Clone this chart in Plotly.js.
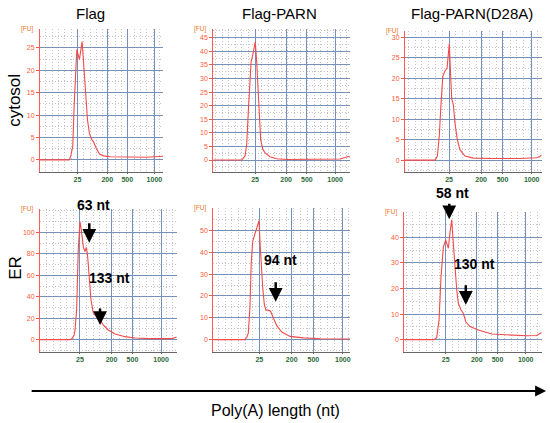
<!DOCTYPE html>
<html>
<head>
<meta charset="utf-8">
<script src="https://cdn.plot.ly/plotly-3.0.1.min.js"></script>
<style>html,body{margin:0;padding:0;background:#fff;}#chart{width:550px;height:423px;}</style>
</head>
<body>
<div id="chart"></div>
<script>
// Ladder (size markers) on the migration-time axis
const ladderSizes = ['25', '200', '500', '1000'];
const ladderTimes = [30, 53.7, 69.5, 91];

const columnTitles = ['Flag', 'Flag-PARN', 'Flag-PARN(D28A)'];
const rowLabels = ['cytosol', 'ER'];
const xAxisLabel = 'Poly(A) length (nt)';
const yUnit = '[FU]';

// cytosol – Flag
const cytFlagT = [0.3, 23.6, 24.8, 26.3, 27.4, 28.4, 29.5, 30.6, 31.6, 32.7, 33.7, 34.8, 35.3, 36.4, 38.0, 39.5, 41.4, 42.7, 44.9, 47.5, 50.7, 56.0, 70, 85, 98];
const cytFlagY = [0, 0, 1, 3, 12, 20, 24.6, 23.5, 22.4, 24.5, 26.4, 22, 20, 14.5, 8.9, 5.9, 4.5, 4.1, 2.6, 1.3, 0.9, 0.7, 0.6, 0.6, 0.8];
// cytosol – Flag-PARN
const cytParnT = [-1.8, 19.9, 22.4, 23.7, 24.9, 26.2, 27.0, 28.2, 29.2, 30.2, 31.3, 32.3, 33.3, 34.3, 35.9, 37.9, 41.4, 46.5, 54.2, 74.5, 94.8, 98.6, 101.1, 102.4];
const cytParnY = [0, 0, 1.5, 6, 18, 30, 36, 38.5, 41, 43.5, 36, 25, 13, 7.5, 4, 2.5, 1.2, 0.5, 0.2, 0.3, 0.4, 0.9, 1.3, 1.1];
// cytosol – Flag-PARN(D28A)
const cytD28T = [-2.5, 19.7, 21.4, 22.8, 24.1, 25.4, 27.0, 28.5, 29.5, 30.2, 31.0, 32.0, 33.2, 34.4, 36.1, 38.1, 41.8, 47.9, 62.7, 82.4, 94.7, 97.1, 98.4];
const cytD28Y = [0, 0, 1, 6, 14, 20.5, 21.8, 22.5, 26, 28.5, 22, 15, 13.5, 9, 5, 2.5, 1, 0.5, 0.4, 0.4, 0.6, 0.9, 1.3];
// ER – Flag
const erFlagT = [-0.1, 22.5, 24.0, 25.5, 26.2, 27.5, 28.7, 29.5, 30.0, 30.8, 31.7, 32.6, 33.8, 34.7, 35.0, 35.8, 36.8, 38.3, 40.0, 42.6, 45.1, 47.5, 51.3, 56.4, 63.9, 71.4, 82.7, 94, 99.3, 102.8];
const erFlagY = [0, 0, 1, 4, 8, 28, 84, 105, 110, 104, 92, 86, 82, 86, 85, 77, 59, 37, 25, 21, 18.4, 13.7, 9, 5.3, 2.8, 1.5, 1, 0.8, 1, 2.5];
// ER – Flag-PARN
const erParnT = [-3.6, 19.5, 20.8, 22.0, 23.2, 24.1, 25.2, 26.9, 28.5, 29.8, 30.5, 31.5, 32.5, 33.7, 34.9, 36.6, 38.3, 40.2, 42.7, 46.4, 52.5, 62.2, 74.4, 96.3];
const erParnY = [0, 0, 1, 3, 15, 35, 45, 48.5, 51, 54.5, 45, 33, 24, 16, 13.5, 13.5, 13, 10, 6.5, 3.5, 1.5, 0.8, 0.4, 0.3];
// ER – Flag-PARN(D28A)
const erD28T = [-1.6, 21.1, 23.1, 24.9, 26.4, 28.2, 30.0, 31.0, 32.0, 33.3, 34.6, 35.8, 37.1, 38.4, 39.6, 41.7, 43.4, 45.3, 48.5, 54.9, 65.1, 79.0, 91.8, 99.4, 103.2];
const erD28Y = [0, 0, 0.8, 7.7, 24.6, 36.3, 39, 37, 35.7, 42, 46.8, 37.6, 27.2, 19.4, 14.2, 11.6, 10.3, 7, 5.1, 3.8, 2.2, 1.8, 1.5, 1.6, 2.8];

// Peak callouts
const peakLabels = ['63 nt', '133 nt', '94 nt', '58 nt', '130 nt'];
const peakPanels = [4, 4, 5, 6, 6];
const peakT = [37.0, 45.1, 42.0, 32.7, 45.3];
const peakY = [90.4, 13.7, 17.4, 47.1, 13.6];

const series = [
  [cytFlagT, cytFlagY], [cytParnT, cytParnY], [cytD28T, cytD28Y],
  [erFlagT, erFlagY], [erParnT, erParnY], [erD28T, erD28Y]
];

// y tick spacing and largest labelled value per panel
const yDticks = [5, 5, 5, 20, 10, 10];
const yTickMax = [25, 45, 30, 100, 50, 40];

// layout geometry
const xDomains = [[0.0727, 0.2970], [0.3878, 0.6364], [0.7364, 0.9849], [0.0727, 0.3213], [0.3878, 0.6364], [0.7351, 0.9849]];
const yDomains = [[0.5934, 0.9314], [0.5934, 0.9307], [0.5934, 0.9267], [0.1686, 0.5052], [0.1686, 0.5075], [0.1686, 0.4995]];
const xRanges = [[0.34, 98.1], [-1.8, 102.4], [-2.5, 98.4], [-0.1, 102.8], [-3.6, 96.3], [-1.6, 103.2]];
const yRanges = [[-2.7, 29.2], [-4.4, 48.1], [-2.9, 31.6], [-11.2, 121.5], [-5.5, 60.1], [-4.7, 50]];
const labelPX = [0.1691, 0.1982, 0.5091, 0.8236, 0.8636];
const labelPY = [0.5154, 0.3428, 0.3853, 0.5430, 0.3759];
const arrowLen = [-21, -18, -21, -17, -21];

const curveColor = '#f24a4a';
const majorGrid = '#7591b8';
const minorGrid = '#c4c4c4';
const yTickColor = '#ff5a36';

const traces = series.map((s, i) => ({
  type: 'scatter', mode: 'lines',
  x: s[0], y: s[1],
  xaxis: i === 0 ? 'x' : 'x' + (i + 1),
  yaxis: i === 0 ? 'y' : 'y' + (i + 1),
  line: {color: curveColor, width: 1.1},
  hoverinfo: 'skip'
}));

const layout = {
  width: 550, height: 423,
  margin: {l: 0, r: 0, t: 0, b: 0},
  paper_bgcolor: '#ffffff', plot_bgcolor: '#ffffff',
  showlegend: false,
  font: {family: 'Liberation Sans, Arial, sans-serif', color: '#000'},
  annotations: [], shapes: []
};

for (let i = 0; i < 6; i++) {
  const n = i === 0 ? '' : String(i + 1);
  const yt = [];
  for (let v = 0; v <= yTickMax[i]; v += yDticks[i]) yt.push(v);
  layout['xaxis' + n] = {
    domain: xDomains[i], range: xRanges[i], anchor: 'y' + n,
    tickmode: 'array', tickvals: ladderTimes, ticktext: ladderSizes,
    tickfont: {size: 7, color: '#2a6a3a', weight: 'bold'},
    ticks: 'outside', ticklen: 1, tickcolor: '#666',
    showgrid: true, gridcolor: majorGrid, gridwidth: 1,
    minor: {tick0: 0, dtick: 5, showgrid: true, gridcolor: minorGrid, griddash: '1px,2px', gridwidth: 1, ticks: ''},
    showline: true, linecolor: '#666', linewidth: 1,
    zeroline: false, fixedrange: true
  };
  layout['yaxis' + n] = {
    domain: yDomains[i], range: yRanges[i], anchor: 'x' + n,
    tickmode: 'array', tickvals: yt,
    tickfont: {size: 7, color: yTickColor},
    ticks: 'outside', ticklen: 3, tickcolor: yTickColor,
    showgrid: true, gridcolor: majorGrid, gridwidth: 1,
    minor: {tick0: 0, dtick: yDticks[i] / 2, showgrid: true, gridcolor: minorGrid, griddash: '1px,2px', gridwidth: 1, ticks: ''},
    showline: true, linecolor: '#ff5a5a', linewidth: 1,
    zeroline: false, fixedrange: true
  };
  // [FU] unit label
  layout.annotations.push({
    text: yUnit, xref: 'x' + n + ' domain', yref: 'y' + n + ' domain',
    x: 0, y: 1, xanchor: 'right', yanchor: 'middle', xshift: -5,
    showarrow: false, font: {size: 6.5, color: '#f07a28'}
  });
}

// column titles
const titleX = [0.1645, 0.5073, 0.8576];
columnTitles.forEach((t, i) => layout.annotations.push({
  text: t, xref: 'paper', yref: 'paper', x: titleX[i], y: 0.967,
  xanchor: 'center', yanchor: 'middle', showarrow: false,
  font: {size: 15, color: '#000'}
}));

// row labels
const rowY = [0.7636, 0.3664];
rowLabels.forEach((t, i) => layout.annotations.push({
  text: t, xref: 'paper', yref: 'paper', x: 0.027, y: rowY[i],
  xanchor: 'center', yanchor: 'middle', textangle: -90, showarrow: false,
  font: {size: 17, color: '#000'}
}));

// peak callouts
peakLabels.forEach((t, i) => {
  const n = String(peakPanels[i]);
  layout.annotations.push({
    text: '', xref: 'x' + n, yref: 'y' + n, x: peakT[i], y: peakY[i],
    ax: 0, ay: arrowLen[i], showarrow: true, arrowhead: 2, arrowsize: 1.1,
    arrowwidth: 2.5, arrowcolor: '#000'
  });
  layout.annotations.push({
    text: '<b>' + t + '</b>', xref: 'paper', yref: 'paper', x: labelPX[i], y: labelPY[i],
    xanchor: 'center', yanchor: 'middle', showarrow: false,
    font: {size: 14, color: '#000', family: 'Liberation Sans, Arial, sans-serif'}
  });
});

// global poly(A) length arrow
layout.annotations.push({
  text: '', xref: 'paper', yref: 'paper', x: 0.993, y: 0.0757,
  ax: -516, ay: 0, showarrow: true, arrowhead: 2, arrowsize: 1,
  arrowwidth: 2.2, arrowcolor: '#000'
});
layout.annotations.push({
  text: xAxisLabel, xref: 'paper', yref: 'paper', x: 0.5, y: 0.03,
  xanchor: 'center', yanchor: 'middle', showarrow: false,
  font: {size: 16, color: '#000'}
});

Plotly.newPlot('chart', traces, layout, {staticPlot: true, displayModeBar: false});
</script>
</body>
</html>
